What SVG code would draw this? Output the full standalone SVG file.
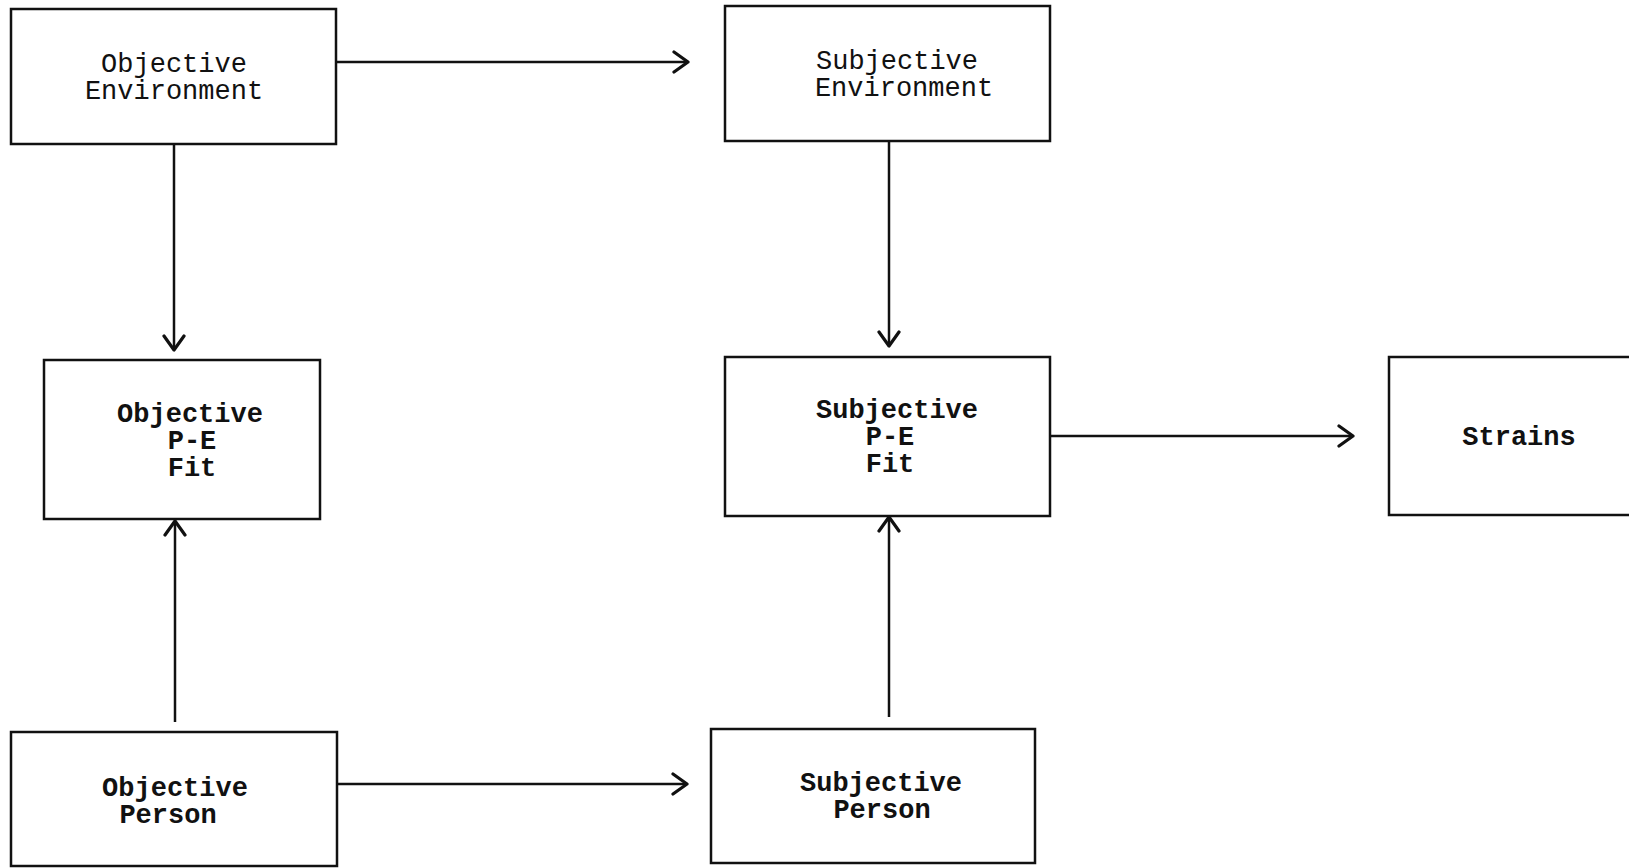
<svg xmlns="http://www.w3.org/2000/svg" width="1629" height="868" viewBox="0 0 1629 868">
<style>
.box{fill:#fff;stroke:#111;stroke-width:2.5}
.t{font-family:"Liberation Mono","Courier New",monospace;font-size:27px;fill:#111;text-anchor:middle}
.b{font-weight:bold}
.c{stroke:#111;stroke-width:2.5;fill:none}
</style>
<defs>
<marker id="ah" viewBox="0 0 22 24" refX="19" refY="12" markerWidth="22" markerHeight="24" markerUnits="userSpaceOnUse" orient="auto">
<path d="M5,2 L19,12 L5,22" fill="none" stroke="#111" stroke-width="3.2" stroke-linecap="round" stroke-linejoin="round"/>
</marker>
</defs>
<rect width="1629" height="868" fill="#fff"/>
<g id="connectors">
<line class="c" x1="336" y1="62" x2="688" y2="62" marker-end="url(#ah)"/>
<line class="c" x1="174" y1="144" x2="174" y2="350" marker-end="url(#ah)"/>
<line class="c" x1="889" y1="141" x2="889" y2="346" marker-end="url(#ah)"/>
<line class="c" x1="175" y1="722" x2="175" y2="521" marker-end="url(#ah)"/>
<line class="c" x1="889" y1="717" x2="889" y2="517" marker-end="url(#ah)"/>
<line class="c" x1="337" y1="784" x2="687" y2="784" marker-end="url(#ah)"/>
<line class="c" x1="1050" y1="436" x2="1353" y2="436" marker-end="url(#ah)"/>
</g>
<g id="objective-environment">
<rect class="box" x="11" y="9" width="325" height="135"/>
<text class="t" x="174" y="72">Objective</text>
<text class="t" x="174" y="99">Environment</text>
</g>
<g id="subjective-environment">
<rect class="box" x="725" y="6" width="325" height="135"/>
<text class="t" x="897" y="69">Subjective</text>
<text class="t" x="904" y="96">Environment</text>
</g>
<g id="objective-pe-fit">
<rect class="box" x="44" y="360" width="276" height="159"/>
<text class="t b" x="190" y="422">Objective</text>
<text class="t b" x="192" y="449">P-E</text>
<text class="t b" x="192" y="476">Fit</text>
</g>
<g id="subjective-pe-fit">
<rect class="box" x="725" y="357" width="325" height="159"/>
<text class="t b" x="897" y="418">Subjective</text>
<text class="t b" x="890" y="445">P-E</text>
<text class="t b" x="890" y="472">Fit</text>
</g>
<g id="strains">
<rect class="box" x="1389" y="357" width="250" height="158"/>
<text class="t b" x="1519" y="445">Strains</text>
</g>
<g id="objective-person">
<rect class="box" x="11" y="732" width="326" height="134"/>
<text class="t b" x="175" y="796">Objective</text>
<text class="t b" x="168" y="823">Person</text>
</g>
<g id="subjective-person">
<rect class="box" x="711" y="729" width="324" height="134"/>
<text class="t b" x="881" y="791">Subjective</text>
<text class="t b" x="882" y="818">Person</text>
</g>
</svg>
